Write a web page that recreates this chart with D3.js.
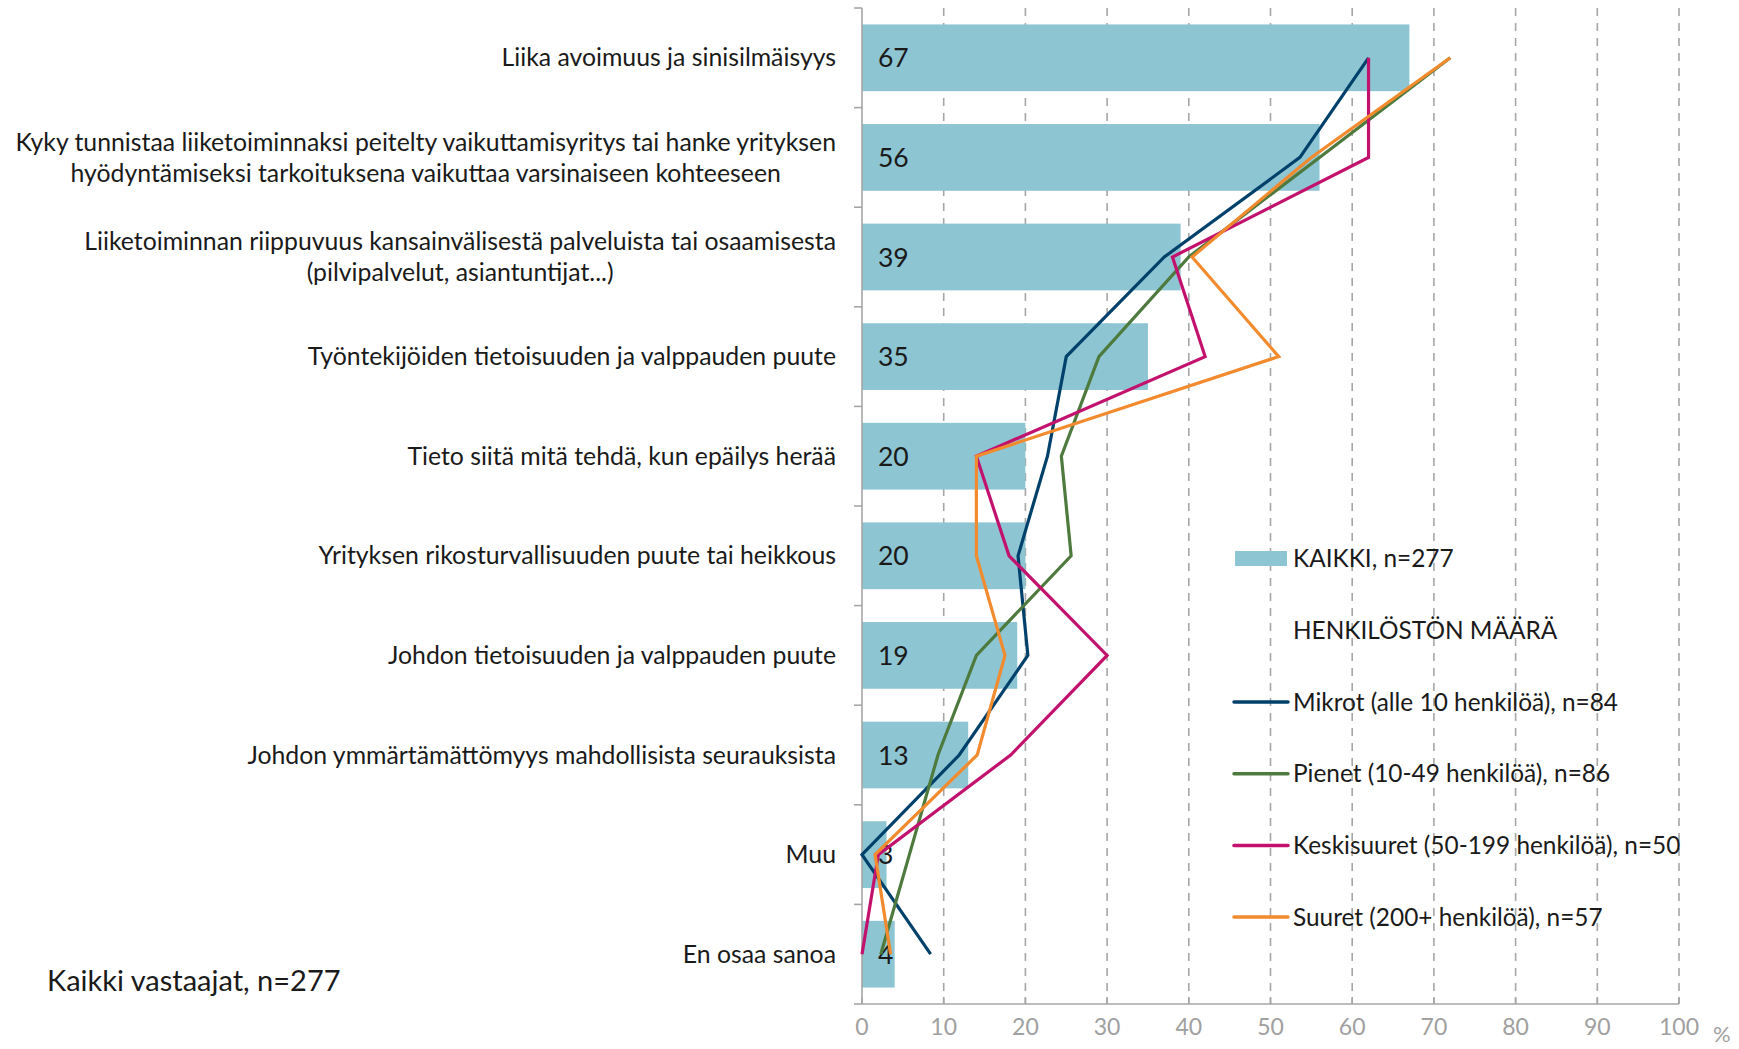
<!DOCTYPE html>
<html>
<head>
<meta charset="utf-8">
<script src="https://cdn.jsdelivr.net/npm/d3@7"></script>
<style>
  body { margin: 0; background: #fff; }
  svg { display: block; font-family: Lato, "Open Sans", sans-serif; }
</style>
</head>
<body>
<div id="chart"></div>
<script>
// Data
const categories = [
  ["Liika avoimuus ja sinisilmäisyys"],
  ["Kyky tunnistaa liiketoiminnaksi peitelty vaikuttamisyritys tai hanke yrityksen", "hyödyntämiseksi tarkoituksena vaikuttaa varsinaiseen kohteeseen"],
  ["Liiketoiminnan riippuvuus kansainvälisestä palveluista tai osaamisesta", "(pilvipalvelut, asiantuntijat...)"],
  ["Työntekijöiden tietoisuuden ja valppauden puute"],
  ["Tieto siitä mitä tehdä, kun epäilys herää"],
  ["Yrityksen rikosturvallisuuden puute tai heikkous"],
  ["Johdon tietoisuuden ja valppauden puute"],
  ["Johdon ymmärtämättömyys mahdollisista seurauksista"],
  ["Muu"],
  ["En osaa sanoa"]
];
const kaikki = [67, 56, 39, 35, 20, 20, 19, 13, 3, 4];
const mikrot = [62, 53.6, 37, 25, 22.7, 19.1, 20.3, 11.9, 0, 8.4];
const pienet = [72, 56, 40, 29, 24.4, 25.6, 14, 9.3, 5.8, 2.3];
const keski = [62, 62, 38, 42, 14, 18, 30, 18.2, 2, 0];
const suuret = [72, 55, 40.4, 51, 14, 14, 17.5, 14.1, 1.6, 3.5];
const xTicks = [0, 10, 20, 30, 40, 50, 60, 70, 80, 90, 100];

const lineSeries = [
  { name: "Mikrot (alle 10 henkilöä), n=84", values: mikrot, color: "#00416B" },
  { name: "Pienet (10-49 henkilöä), n=86", values: pienet, color: "#4E7A3E" },
  { name: "Keskisuuret (50-199 henkilöä), n=50", values: keski, color: "#C3126E" },
  { name: "Suuret (200+ henkilöä), n=57", values: suuret, color: "#F28A2E" }
];

const width = 1739, height = 1049;
const svg = d3.select("#chart").append("svg").attr("width", width).attr("height", height);

const x = d3.scaleLinear().domain([0, 100]).range([862, 1679]);
const y = d3.scaleBand().domain(d3.range(categories.length)).range([8, 1004])
  .paddingInner(0.33).paddingOuter(0.165);
const yc = i => y(i) + y.bandwidth() / 2;

// Gridlines
svg.append("g").selectAll("line").data(xTicks.slice(1)).join("line")
  .attr("x1", d => x(d)).attr("x2", d => x(d))
  .attr("y1", 8).attr("y2", 1004)
  .attr("stroke", "#a6a6a6").attr("stroke-width", 1.6)
  .attr("stroke-dasharray", "8,7");

// Bars
svg.append("g").selectAll("rect").data(kaikki).join("rect")
  .attr("x", x(0)).attr("y", (d, i) => y(i))
  .attr("width", d => x(d) - x(0)).attr("height", y.bandwidth())
  .attr("fill", "#8DC5D3");

// Axes
const axisColor = "#a6a6a6";
svg.append("line").attr("x1", x(0)).attr("x2", x(0)).attr("y1", 8).attr("y2", 1004)
  .attr("stroke", axisColor).attr("stroke-width", 1.6);
svg.append("g").selectAll("line").data(d3.range(categories.length + 1)).join("line")
  .attr("x1", x(0) - 8).attr("x2", x(0))
  .attr("y1", i => 8 + i * y.step()).attr("y2", i => 8 + i * y.step())
  .attr("stroke", axisColor).attr("stroke-width", 1.6);
svg.append("line").attr("x1", x(0)).attr("x2", x(100)).attr("y1", 1004).attr("y2", 1004)
  .attr("stroke", axisColor).attr("stroke-width", 1.6);
svg.append("g").selectAll("line").data(xTicks).join("line")
  .attr("x1", d => x(d)).attr("x2", d => x(d)).attr("y1", 997).attr("y2", 1004)
  .attr("stroke", axisColor).attr("stroke-width", 1.6);
svg.append("g").selectAll("text").data(xTicks).join("text")
  .attr("x", d => x(d)).attr("y", 1035).attr("text-anchor", "middle")
  .attr("font-size", 23).attr("fill", "#a0a0a0").text(d => d);
svg.append("text").attr("x", 1713).attr("y", 1042).attr("font-size", 22)
  .attr("fill", "#a0a0a0").text("%");

// Category labels: block right-aligned, lines centred within the block
const labelRight = 836, lh = 31;
const catLabels = svg.append("g").selectAll("g").data(categories).join("g");
catLabels.each(function (lines, i) {
  const g = d3.select(this);
  const texts = lines.map((ln, k) => g.append("text")
    .attr("font-size", 24.8).attr("fill", "#1a1a1a")
    .attr("y", yc(i) + (k - (lines.length - 1) / 2) * lh)
    .attr("dy", "0.35em").text(ln));
  const maxW = d3.max(texts, t => t.node().getComputedTextLength());
  texts.forEach(t => t.attr("text-anchor", "middle").attr("x", labelRight - maxW / 2));
});

// Value labels
svg.append("g").selectAll("text").data(kaikki).join("text")
  .attr("x", 878).attr("y", (d, i) => yc(i)).attr("dy", "0.36em")
  .attr("font-size", 26.5).attr("fill", "#1a1a1a").text(d => d);

// Lines
const line = d3.line().x(d => x(d)).y((d, i) => yc(i));
svg.append("g").selectAll("path").data(lineSeries).join("path")
  .attr("d", d => line(d.values)).attr("fill", "none")
  .attr("stroke", d => d.color).attr("stroke-width", 3.2)
  .attr("stroke-linejoin", "miter");

// Legend
const lg = svg.append("g");
lg.append("rect").attr("x", 1235).attr("y", 551).attr("width", 52).attr("height", 15).attr("fill", "#8DC5D3");
lg.append("text").attr("x", 1293).attr("y", 558).attr("dy", "0.35em").attr("font-size", 24.4)
  .attr("fill", "#1a1a1a").text("KAIKKI, n=277");
lg.append("text").attr("x", 1293).attr("y", 630).attr("dy", "0.35em").attr("font-size", 24.4)
  .attr("fill", "#1a1a1a").text("HENKILÖSTÖN MÄÄRÄ");
const li = lg.selectAll("g.item").data(lineSeries).join("g")
  .attr("transform", (d, i) => `translate(0, ${702 + i * 71.7})`);
li.append("line").attr("x1", 1234).attr("x2", 1288).attr("stroke", d => d.color)
  .attr("stroke-width", 3.5).attr("stroke-linecap", "round");
li.append("text").attr("x", 1293).attr("dy", "0.35em").attr("font-size", 24.4)
  .attr("fill", "#1a1a1a").text(d => d.name);

// Footnote
svg.append("text").attr("x", 47).attr("y", 981).attr("dy", "0.35em").attr("font-size", 29)
  .attr("fill", "#1a1a1a").text("Kaikki vastaajat, n=277");
</script>
</body>
</html>
